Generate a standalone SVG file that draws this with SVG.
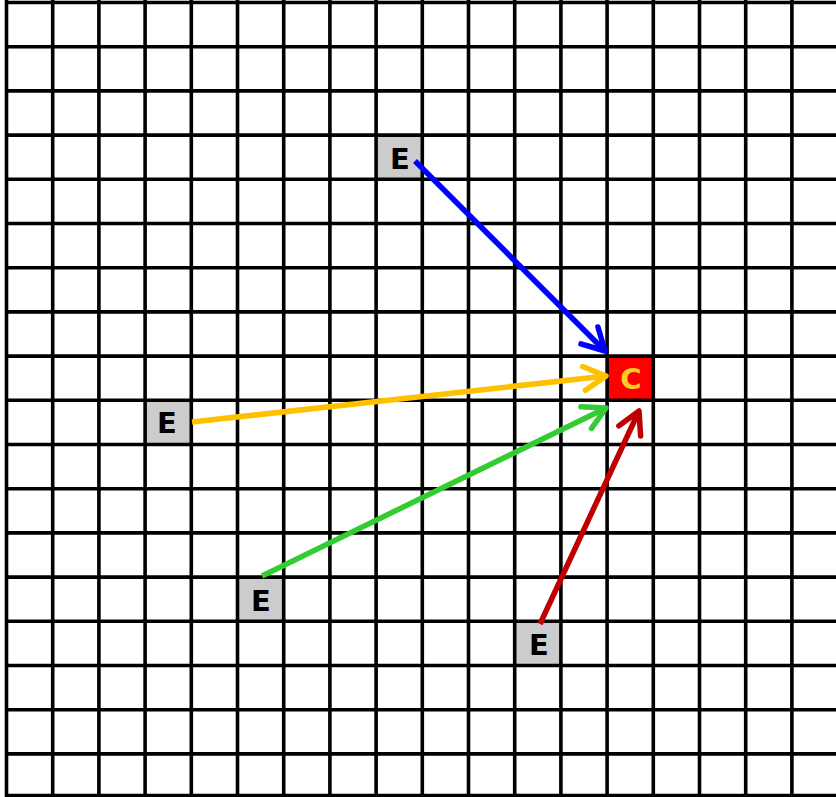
<svg xmlns="http://www.w3.org/2000/svg" width="836" height="797" viewBox="0 0 836 797">
<style>
.grid{stroke:#000;stroke-width:3.6;fill:none}
.cellE{fill:#cccccc}
.cellC{fill:#ff0000}
.lbl{font-family:"DejaVu Sans","Liberation Sans",sans-serif;font-weight:bold;font-size:29px;text-anchor:middle}
.lE{fill:#000}
.lC{fill:#ffcc22}
.arr{stroke-width:5.5;fill:none;stroke-linecap:butt}
.head{fill:none;stroke-width:5.5;stroke-linecap:round;stroke-linejoin:round}
</style>
<defs>
<marker id="mBlue" viewBox="0 0 34 34" markerWidth="34" markerHeight="34" markerUnits="userSpaceOnUse" refX="27" refY="17" orient="auto"><path class="head" d="M5,5 L27,17 L5,29" stroke="#0000ff"/></marker>
<marker id="mOrange" viewBox="0 0 34 34" markerWidth="34" markerHeight="34" markerUnits="userSpaceOnUse" refX="27" refY="17" orient="auto"><path class="head" d="M5,5 L27,17 L5,29" stroke="#ffc000"/></marker>
<marker id="mGreen" viewBox="0 0 34 34" markerWidth="34" markerHeight="34" markerUnits="userSpaceOnUse" refX="27" refY="17" orient="auto"><path class="head" d="M5,5 L27,17 L5,29" stroke="#33cc33"/></marker>
<marker id="mRed" viewBox="0 0 34 34" markerWidth="34" markerHeight="34" markerUnits="userSpaceOnUse" refX="27" refY="17" orient="auto"><path class="head" d="M5,5 L27,17 L5,29" stroke="#c00000"/></marker>
</defs>
<rect width="836" height="797" fill="#fff"/>
<g id="cells">
<g id="nodeE1"><rect class="cellE" x="376.1" y="135.1" width="46.2" height="44.2"/></g>
<g id="nodeE2"><rect class="cellE" x="145.1" y="400.3" width="46.2" height="44.2"/></g>
<g id="nodeE3"><rect class="cellE" x="237.5" y="577.1" width="46.2" height="44.2"/></g>
<g id="nodeE4"><rect class="cellE" x="514.7" y="621.3" width="46.2" height="44.2"/></g>
<g id="nodeC"><rect class="cellC" x="607.1" y="356.1" width="46.2" height="44.2"/></g>
</g>
<path class="grid" d="M6.5,0V797M52.7,0V797M98.9,0V797M145.1,0V797M191.3,0V797M237.5,0V797M283.7,0V797M329.9,0V797M376.1,0V797M422.3,0V797M468.5,0V797M514.7,0V797M560.9,0V797M607.1,0V797M653.3,0V797M699.5,0V797M745.7,0V797M791.9,0V797
M6.5,2.5H836M6.5,46.7H836M6.5,90.9H836M6.5,135.1H836M6.5,179.3H836M6.5,223.5H836M6.5,267.7H836M6.5,311.9H836M6.5,356.1H836M6.5,400.3H836M6.5,444.5H836M6.5,488.7H836M6.5,532.9H836M6.5,577.1H836M6.5,621.3H836M6.5,665.5H836M6.5,709.7H836M6.5,753.9H836M4.7,795.5H836"/>
<g id="labels">
<text class="lbl lE" x="400" y="168.5">E</text>
<text class="lbl lE" x="167" y="433">E</text>
<text class="lbl lE" x="261" y="611">E</text>
<text class="lbl lE" x="539" y="655">E</text>
<text class="lbl lC" x="631" y="389">C</text>
</g>
<g id="connectors">
<line class="arr" stroke="#0000ff" x1="415" y1="161" x2="605" y2="351" marker-end="url(#mBlue)"/>
<line class="arr" stroke="#ffc000" x1="192" y1="422" x2="606" y2="376" marker-end="url(#mOrange)"/>
<line class="arr" stroke="#33cc33" x1="262" y1="576" x2="606" y2="408" marker-end="url(#mGreen)"/>
<line class="arr" stroke="#c00000" x1="540" y1="624" x2="639" y2="411" marker-end="url(#mRed)"/>
</g>
</svg>
